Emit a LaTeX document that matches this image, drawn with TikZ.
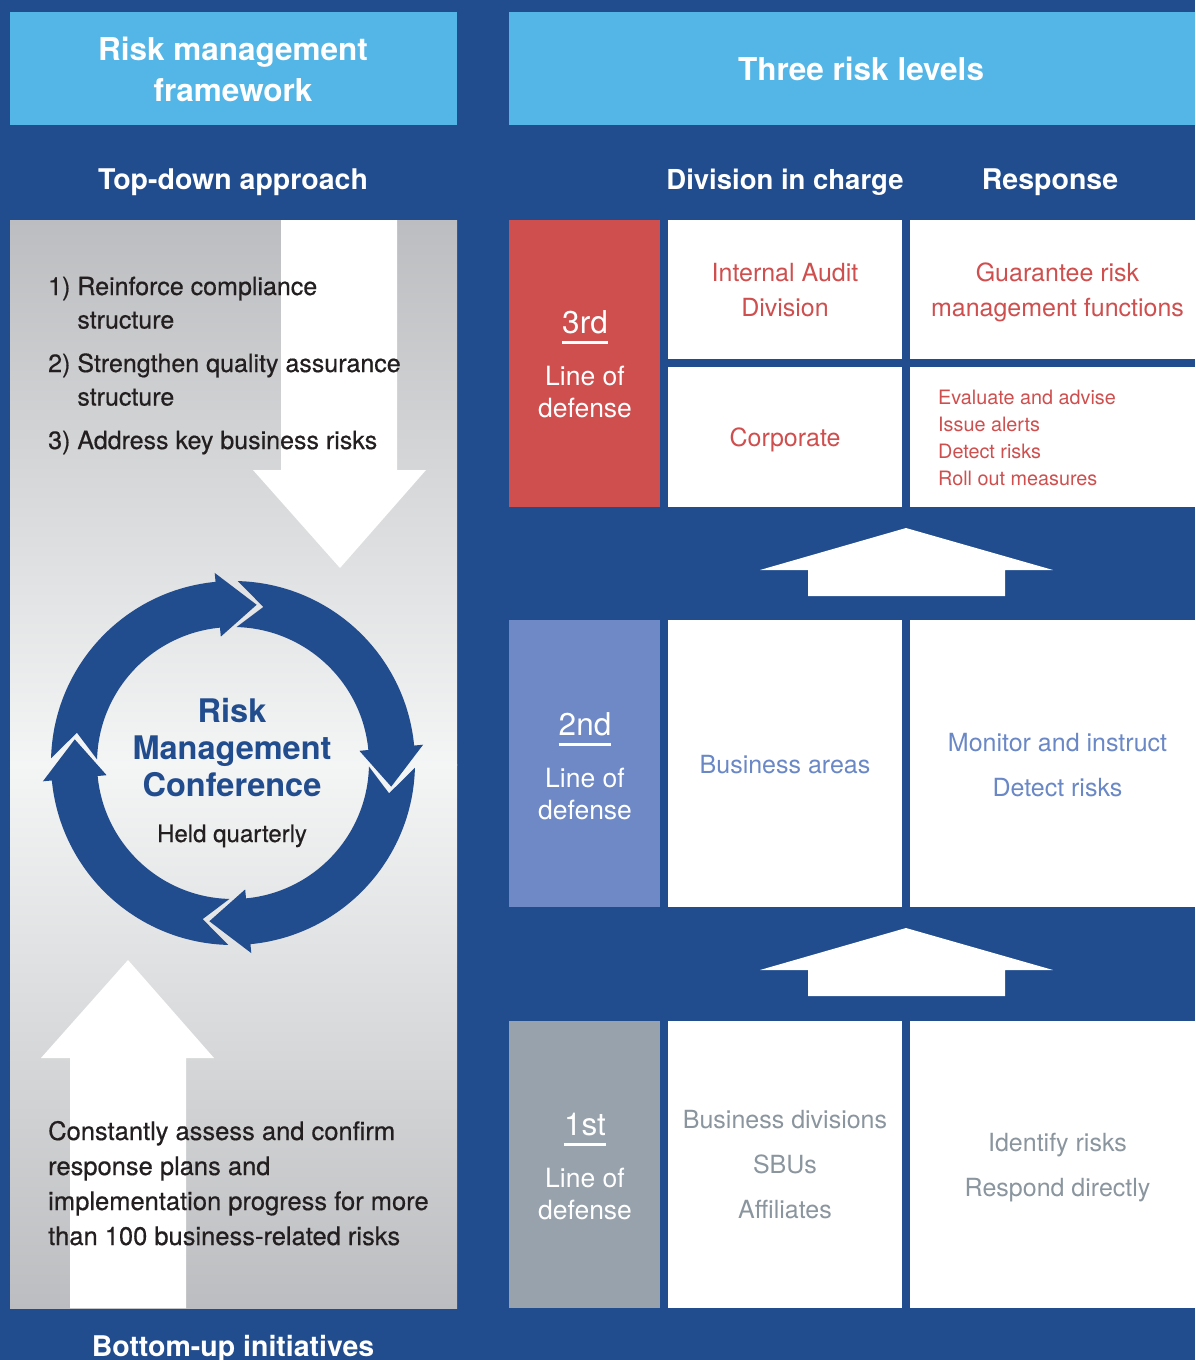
\documentclass[tikz,border=0pt]{standalone}
\usepackage{fontspec}
\setmainfont{TeX Gyre Heros}
\newfontfamily\medium[FakeBold=0.5]{TeX Gyre Heros}
\definecolor{navy}{HTML}{214C8E}
\definecolor{sky}{HTML}{53B6E7}
\definecolor{thirdred}{HTML}{CF4F4F}
\definecolor{secondblue}{HTML}{6E89C5}
\definecolor{firstgrey}{HTML}{97A2AC}
\definecolor{panelgrey}{HTML}{BCBDC0}
\definecolor{panelwhite}{HTML}{F4F5F5}
\definecolor{ink}{HTML}{231F20}
\definecolor{secondtext}{HTML}{6A88C6}
\definecolor{firsttext}{HTML}{8A959E}
\tikzset{
	pics/cell/.style n args={5}{
		code = {
			\fill[#5] (#1, #2) rectangle ++ (#3, #4);
		}
	},
	pics/lift/.style={
		code = {
			\fill[white] (0, -42) -- (147, 0) -- (99, 0) -- (99, 26) -- (-98, 26) -- (-98, 0) -- (-146, 0) -- cycle;
		}
	},
	pics/cyclearc/.style={
		code = {
			\fill[navy] (#1+97:182pt) arc[start angle=#1+97, end angle=#1+14, radius=182pt]
				-- (#1+14:191pt) -- (#1:160pt) -- (#1+14:127pt) -- (#1+14:136pt)
				arc[start angle=#1+14, end angle=#1+97, radius=136pt]
				-- (#1+87.5:159pt) -- cycle;
		}
	}
}

\begin{document}
\begin{tikzpicture}[x=1pt, y=-1pt, every node/.style={inner sep=0pt},
	hdr/.style={text=white, font=\fontsize{31.5}{41}\selectfont\bfseries, align=center, anchor=base},
	subhdr/.style={text=white, font=\fontsize{28.5}{34}\selectfont\bfseries, anchor=base},
	panel/.style={text=ink, font=\medium\fontsize{25}{33.5}\selectfont, align=left, anchor=base west},
	ordinal/.style={text=white, font=\fontsize{31.5}{36}\selectfont, anchor=base},
	lod/.style={text=white, font=\fontsize{26.5}{32}\selectfont, align=center, anchor=base},
	celltext/.style={font=\fontsize{25}{35}\selectfont, align=center, anchor=base},
	wide/.style={font=\fontsize{25}{45}\selectfont, align=center, anchor=base}]

	\useasboundingbox (0, 0) rectangle (1195, 1360);
	\fill[navy] (0, 0) rectangle (1195, 1360);

	\pic{cell={10}		{12}	{447}	{113}	{sky}};
	\pic{cell={509}		{12}	{686}	{113}	{sky}};

	% left panel
	\shade[top color=panelgrey, bottom color=panelwhite] (10, 220) rectangle (457, 765);
	\shade[top color=panelwhite, bottom color=panelgrey] (10, 764) rectangle (457, 1308);
	\fill[white] (281, 220) -- (397, 220) -- (397, 470) -- (426, 470) -- (340, 568) -- (253, 470) -- (281, 470) -- cycle;
	\fill[white] (128, 960) -- (214, 1058) -- (186, 1058) -- (186, 1308) -- (70, 1308) -- (70, 1058) -- (41, 1058) -- cycle;

	\foreach \a in {81.5, -8.5, -98.5, 171.5}
		\pic at (233, 763) {cyclearc=\a};

	% three lines
	\pic{cell={509}		{220}	{151}	{287}	{thirdred}};
	\pic{cell={668}		{220}	{234}	{139}	{white}};
	\pic{cell={910}		{220}	{285}	{139}	{white}};
	\pic{cell={668}		{367}	{234}	{140}	{white}};
	\pic{cell={910}		{367}	{285}	{140}	{white}};

	\pic{cell={509}		{620}	{151}	{287}	{secondblue}};
	\pic{cell={668}		{620}	{234}	{287}	{white}};
	\pic{cell={910}		{620}	{285}	{287}	{white}};

	\pic{cell={509}		{1021}	{151}	{287}	{firstgrey}};
	\pic{cell={668}		{1021}	{234}	{287}	{white}};
	\pic{cell={910}		{1021}	{285}	{287}	{white}};

	\pic at (906, 570) {lift};
	\pic at (906, 970) {lift};

	% titles (base = last line)
	\node[hdr] (frame) at (233, 101) {Risk management\\framework};
	\node[hdr] (levels) at (861, 80) {Three risk levels};
	\node[subhdr] (topdown) at (233, 189) {Top-down approach};
	\node[subhdr, font=\fontsize{27.5}{34}\selectfont\bfseries] (charge) at (785, 189) {Division in charge};
	\node[subhdr] (answer) at (1050, 189) {Response};
	\node[subhdr] (bottomup) at (233, 1356) {Bottom-up initiatives};

	\node[panel] (goals) at (48, 449) {1) Reinforce compliance\\\hphantom{1) }structure\\[10pt]2) Strengthen quality assurance\\\hphantom{2) }structure\\[10pt]3) Address key business risks};
	\node[text=navy, font=\fontsize{32.5}{37}\selectfont\bfseries, align=center, anchor=base] (conf) at (232, 796) {Risk\\Management\\Conference};
	\node[text=ink, font=\medium\fontsize{24}{30}\selectfont, anchor=base] (quarterly) at (232, 842) {Held quarterly};
	\node[panel, font=\medium\fontsize{25.5}{35}\selectfont] (assess) at (48, 1245) {Constantly assess and confirm\\response plans and\\implementation progress for more\\than 100 business-related risks};

	% 3rd
	\node[ordinal] (n3) at (585, 333) {3rd};
	\node[lod] (l3) at (585, 417) {Line of\\defense};
	\node[celltext, text=thirdred] (audit) at (785, 316) {Internal Audit\\Division};
	\node[celltext, text=thirdred] (assure) at (1057.5, 316) {Guarantee risk\\management functions};
	\node[celltext, text=thirdred] (corp) at (785, 446) {Corporate};
	\node[text=thirdred, font=\fontsize{19.8}{27}\selectfont, align=left, anchor=base west] (advise) at (938, 485) {Evaluate and advise\\Issue alerts\\Detect risks\\Roll out measures};

	% 2nd
	\node[ordinal] (n2) at (585, 735) {2nd};
	\node[lod] (l2) at (585, 819) {Line of\\defense};
	\node[celltext, text=secondtext] (areas) at (785, 773) {Business areas};
	\node[wide, text=secondtext] (monitor) at (1057.5, 796) {Monitor and instruct\\Detect risks};

	% 1st
	\node[ordinal] (n1) at (585, 1135) {1st};
	\node[lod] (l1) at (585, 1219) {Line of\\defense};
	\node[wide, text=firsttext] (units) at (785, 1218) {Business divisions\\SBUs\\Affiliates};
	\node[wide, text=firsttext] (identify) at (1057.5, 1196) {Identify risks\\Respond directly};

	\foreach \n in {n3, n2, n1}
		\draw[white, line width=2.5] ([yshift=-9.5pt]\n.base west) -- ([yshift=-9.5pt]\n.base east);

\end{tikzpicture}
\end{document}
